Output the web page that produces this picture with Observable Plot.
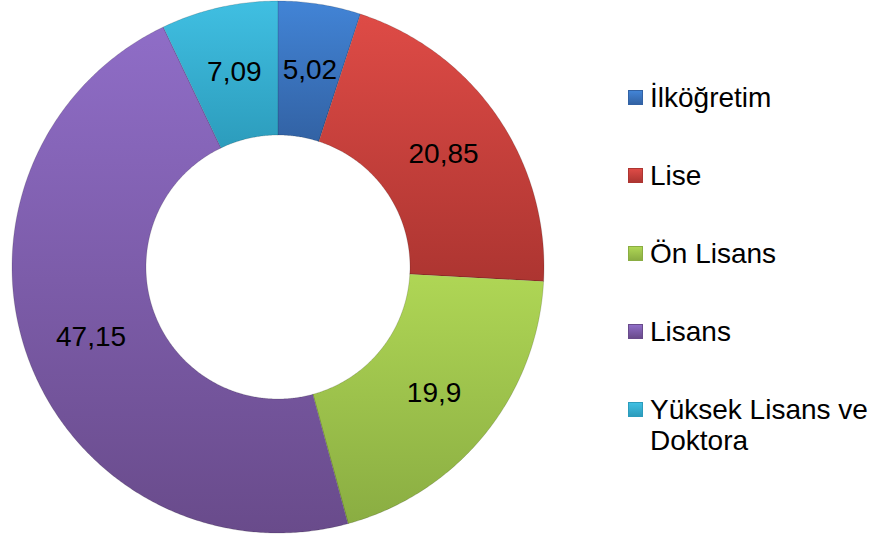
<!DOCTYPE html>
<html>
<head>
<meta charset="utf-8">
<script src="https://cdn.jsdelivr.net/npm/d3@7"></script>
<script src="https://cdn.jsdelivr.net/npm/@observablehq/plot@0.6"></script>
<style>
  html, body { margin: 0; padding: 0; background: #fff; }
  #wrap { position: relative; width: 870px; height: 538px; font-family: "Liberation Sans", Arial, sans-serif; }
  #legend { position: absolute; left: 628px; top: 82px; display: flex; flex-direction: column; gap: 47px; }
  .item { display: flex; align-items: flex-start; font-size: 28px; line-height: 31px; color: #000; white-space: nowrap; }
  .sw { width: 15px; height: 15px; margin-top: 8px; margin-right: 7px; flex: none; box-sizing: border-box; }
</style>
</head>
<body>
<div id="wrap"><div id="chart"></div><div id="legend"></div></div>
<script>
const categories = ["İlköğretim", "Lise", "Ön Lisans", "Lisans", "Yüksek Lisans ve Doktora"];
const legendLines = [["İlköğretim"], ["Lise"], ["Ön Lisans"], ["Lisans"], ["Yüksek Lisans ve", "Doktora"]];
const values = [5.02, 20.85, 19.9, 47.15, 7.09];
const labels = ["5,02", "20,85", "19,9", "47,15", "7,09"];
const topColors = ["#4284d6", "#de4b46", "#afd655", "#8f6dc7", "#40bfe2"];
const bottomColors = ["#3262a4", "#ad3531", "#8aad42", "#694b8b", "#2c9cbc"];

const R_OUT = 266, R_IN = 132, R_LAB = 200;
const total = d3.sum(values);
const slices = [];
const pts = [];
let acc = 0;
values.forEach((v, i) => {
  const a0 = acc / total * 2 * Math.PI;
  acc += v;
  const a1 = acc / total * 2 * Math.PI;
  const am = (a0 + a1) / 2;
  slices.push({cat: categories[i], label: labels[i], lx: R_LAB * Math.sin(am), ly: R_LAB * Math.cos(am)});
  const n = Math.max(4, Math.ceil((a1 - a0) * 180 / Math.PI * 2));
  for (let k = 0; k <= n; k++) {
    const a = a0 + (a1 - a0) * k / n;
    pts.push({cat: categories[i], xo: R_OUT * Math.sin(a), yo: R_OUT * Math.cos(a), xi: R_IN * Math.sin(a), yi: R_IN * Math.cos(a)});
  }
});

const svg = Plot.plot({
  width: 870,
  height: 538,
  margin: 0,
  style: {fontFamily: "Liberation Sans, Arial, sans-serif", background: "transparent"},
  x: {domain: [-278, 592], axis: null},
  y: {domain: [-271, 267], axis: null},
  color: {domain: categories, range: categories.map((_, i) => `url(#seg${i})`)},
  marks: [
    Plot.area(pts, {x1: "xo", y1: "yo", x2: "xi", y2: "yi", z: "cat", fill: "cat", curve: "linear", stroke: "#00000030", strokeWidth: 0.8}),
    Plot.text(slices, {x: "lx", y: "ly", text: "label", fontSize: 28, fill: "#000"})
  ]
});

const defs = d3.select(svg).insert("defs", ":first-child");
categories.forEach((c, i) => {
  const g = defs.append("linearGradient").attr("id", `seg${i}`).attr("x1", 0).attr("y1", 0).attr("x2", 0).attr("y2", 1);
  g.append("stop").attr("offset", "0%").attr("stop-color", topColors[i]);
  g.append("stop").attr("offset", "100%").attr("stop-color", bottomColors[i]);
});
document.getElementById("chart").appendChild(svg);

const legend = document.getElementById("legend");
categories.forEach((c, i) => {
  const item = document.createElement("div");
  item.className = "item";
  const sw = document.createElement("div");
  sw.className = "sw";
  sw.style.background = `linear-gradient(${topColors[i]}, ${bottomColors[i]})`;
  sw.style.border = `1px solid ${bottomColors[i]}`;
  const t = document.createElement("div");
  legendLines[i].forEach((line, j) => {
    if (j > 0) t.appendChild(document.createElement("br"));
    t.appendChild(document.createTextNode(line));
  });
  item.appendChild(sw);
  item.appendChild(t);
  legend.appendChild(item);
});
</script>
</body>
</html>
